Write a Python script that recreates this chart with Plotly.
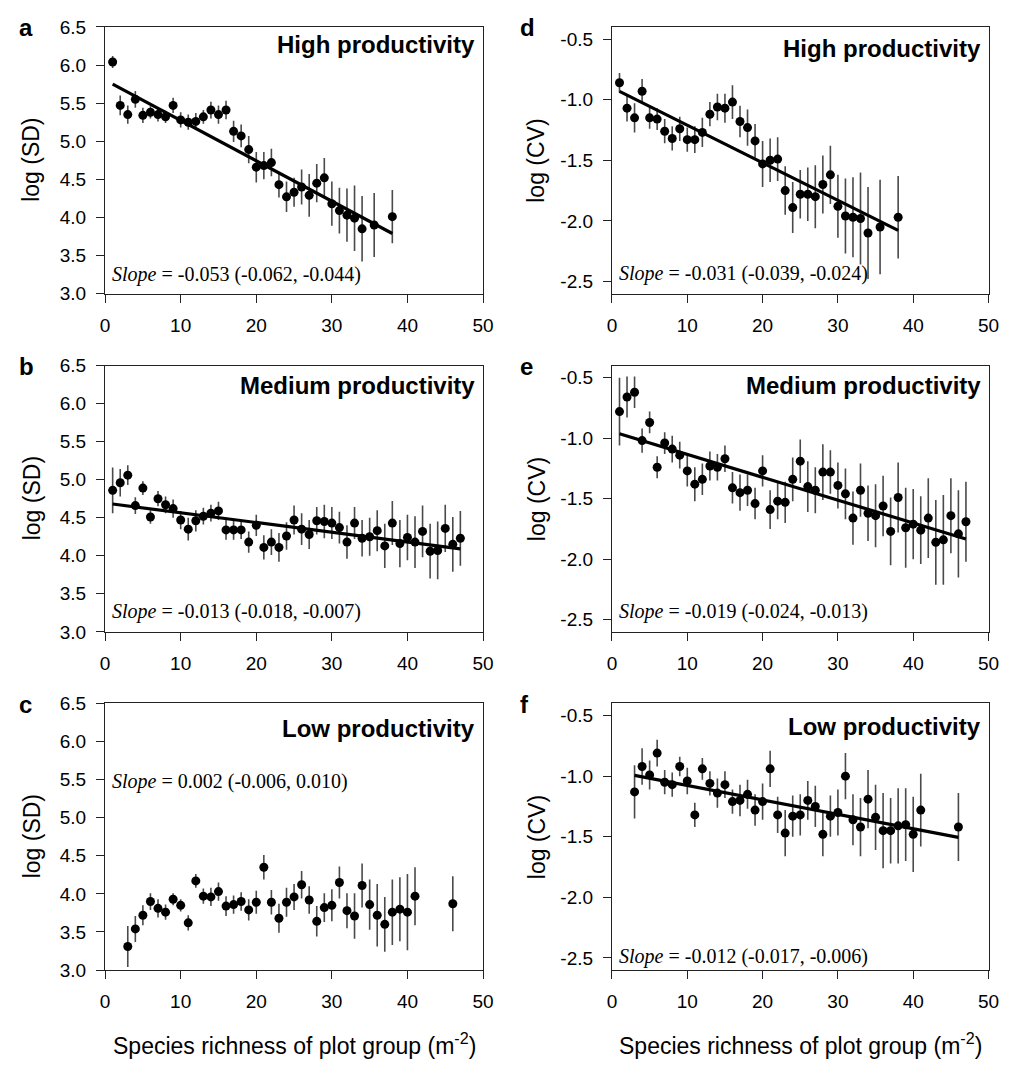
import plotly.graph_objects as go

W, H = 1014, 1070

# ---------------- data ----------------
x_high = list(range(1, 35)) + [35.6, 38]
x_med = list(range(1, 48))
x_low = list(range(3, 42)) + [46]

sd_high = [6.04,5.47,5.35,5.55,5.34,5.38,5.35,5.32,5.47,5.28,5.25,5.26,5.32,5.41,5.35,5.41,5.13,5.07,4.89,4.66,
           4.68,4.72,4.43,4.27,4.33,4.40,4.29,4.45,4.52,4.18,4.09,4.03,3.99,3.85,3.90,4.01]
sd_high_err = [0.08,0.13,0.12,0.11,0.10,0.08,0.09,0.08,0.10,0.10,0.10,0.11,0.09,0.11,0.12,0.12,0.14,0.15,0.18,0.20,
               0.18,0.18,0.17,0.20,0.19,0.23,0.28,0.25,0.26,0.29,0.30,0.35,0.43,0.43,0.42,0.35]

cv_high = [-0.86,-1.07,-1.15,-0.93,-1.15,-1.16,-1.26,-1.32,-1.24,-1.33,-1.33,-1.27,-1.12,-1.06,-1.07,-1.02,-1.18,-1.23,
           -1.34,-1.53,-1.50,-1.49,-1.75,-1.89,-1.78,-1.78,-1.80,-1.70,-1.62,-1.88,-1.96,-1.97,-1.98,-2.10,-2.05,-1.97]
cv_high_err = [0.08,0.11,0.12,0.10,0.09,0.09,0.10,0.10,0.10,0.10,0.11,0.12,0.10,0.11,0.12,0.14,0.13,0.15,0.14,0.19,
               0.18,0.18,0.20,0.21,0.20,0.22,0.26,0.24,0.24,0.26,0.31,0.33,0.38,0.38,0.39,0.34]

sd_med = [4.86,4.96,5.06,4.66,4.89,4.51,4.75,4.67,4.62,4.47,4.35,4.46,4.52,4.56,4.59,4.34,4.34,4.34,4.18,4.40,
          4.11,4.18,4.11,4.26,4.47,4.35,4.28,4.46,4.45,4.43,4.37,4.18,4.43,4.23,4.25,4.33,4.13,4.43,4.16,4.24,
          4.18,4.32,4.06,4.07,4.36,4.15,4.23]
sd_med_err = [0.30,0.18,0.13,0.11,0.09,0.09,0.10,0.11,0.12,0.12,0.15,0.14,0.11,0.11,0.12,0.13,0.13,0.12,0.14,0.14,
              0.16,0.17,0.19,0.18,0.19,0.21,0.19,0.18,0.22,0.21,0.21,0.22,0.21,0.24,0.25,0.27,0.29,0.29,0.31,0.30,
              0.34,0.34,0.36,0.38,0.31,0.36,0.36]

cv_med = [-0.78,-0.66,-0.62,-1.02,-0.87,-1.24,-1.04,-1.09,-1.14,-1.27,-1.38,-1.34,-1.23,-1.24,-1.17,-1.41,-1.45,-1.43,
          -1.54,-1.27,-1.59,-1.52,-1.53,-1.34,-1.19,-1.40,-1.43,-1.28,-1.28,-1.39,-1.46,-1.66,-1.43,-1.62,-1.64,-1.56,
          -1.77,-1.49,-1.74,-1.71,-1.76,-1.66,-1.86,-1.84,-1.64,-1.79,-1.69]
cv_med_err = [0.28,0.17,0.13,0.10,0.09,0.09,0.09,0.11,0.11,0.13,0.14,0.13,0.12,0.11,0.11,0.13,0.15,0.13,0.13,0.13,
              0.16,0.15,0.17,0.18,0.18,0.21,0.19,0.23,0.18,0.19,0.21,0.22,0.22,0.23,0.26,0.25,0.28,0.29,0.33,0.29,
              0.28,0.33,0.35,0.37,0.31,0.36,0.33]

sd_low = [3.31,3.54,3.72,3.90,3.81,3.76,3.93,3.85,3.62,4.17,3.97,3.96,4.03,3.84,3.86,3.90,3.79,3.89,4.35,3.89,
          3.68,3.89,3.96,4.12,3.92,3.64,3.82,3.85,4.15,3.78,3.71,4.11,3.86,3.72,3.60,3.76,3.80,3.76,3.97,3.87]
sd_low_err = [0.27,0.17,0.13,0.11,0.12,0.10,0.08,0.08,0.10,0.09,0.10,0.12,0.12,0.13,0.12,0.12,0.14,0.15,0.16,0.16,
              0.19,0.19,0.17,0.18,0.18,0.20,0.19,0.21,0.21,0.23,0.30,0.29,0.33,0.41,0.36,0.43,0.42,0.50,0.38,0.36]

cv_low = [-1.13,-0.92,-0.99,-0.81,-1.05,-1.07,-0.92,-1.04,-1.32,-0.94,-1.06,-1.14,-1.07,-1.21,-1.20,-1.15,-1.28,-1.21,
          -0.94,-1.32,-1.47,-1.33,-1.32,-1.20,-1.25,-1.48,-1.33,-1.30,-1.00,-1.36,-1.42,-1.19,-1.34,-1.45,-1.45,-1.41,
          -1.40,-1.48,-1.28,-1.42]
cv_low_err = [0.22,0.15,0.12,0.11,0.10,0.10,0.08,0.11,0.10,0.09,0.10,0.12,0.11,0.10,0.13,0.12,0.13,0.15,0.15,0.15,
              0.19,0.17,0.17,0.16,0.17,0.18,0.17,0.19,0.19,0.21,0.24,0.24,0.27,0.31,0.27,0.31,0.30,0.31,0.30,0.28]

# fitted lines: (intercept, slope, x_start, x_end); None = no line drawn
fit_sd_high = (5.803, -0.053, 1, 38)
fit_cv_high = (-0.900, -0.031, 1, 38)
fit_sd_med = (4.693, -0.0128, 1, 47)
fit_cv_med = (-0.945, -0.0189, 1, 47)
fit_sd_low = None
fit_cv_low = (-0.958, -0.0119, 3, 46)

slope_labels = ["-0.053 (-0.062, -0.044)", "-0.013 (-0.018, -0.007)", "0.002 (-0.006, 0.010)",
                "-0.031 (-0.039, -0.024)", "-0.019 (-0.024, -0.013)", "-0.012 (-0.017, -0.006)"]
panel_letters = ["a", "b", "c", "d", "e", "f"]
headings = ["High productivity", "Medium productivity", "Low productivity"] * 2
sd_ticks = [3.0, 3.5, 4.0, 4.5, 5.0, 5.5, 6.0, 6.5]
cv_ticks = [-2.5, -2.0, -1.5, -1.0, -0.5]
x_ticks = [0, 10, 20, 30, 40, 50]

# ---------------- layout geometry (pixels) ----------------
col_l = [(101.7, 485.7), (616.7, 999.3)]
row_t = [(17.3, 289.3), (362.7, 634.3), (707.3, 979.3)]

def fx(px):
    return px / W

def fy(py):
    return 1 - py / H

SANS = "Arial, Liberation Sans, sans-serif"
SERIF = "Times New Roman, Liberation Serif, serif"

panels = [
    (x_high, sd_high, sd_high_err, fit_sd_high, 0, 0),
    (x_med, sd_med, sd_med_err, fit_sd_med, 0, 1),
    (x_low, sd_low, sd_low_err, fit_sd_low, 0, 2),
    (x_high, cv_high, cv_high_err, fit_cv_high, 1, 0),
    (x_med, cv_med, cv_med_err, fit_cv_med, 1, 1),
    (x_low, cv_low, cv_low_err, fit_cv_low, 1, 2),
]

fig = go.Figure()
layout = dict(width=W, height=H, margin=dict(l=0, r=0, t=0, b=0), autosize=False,
              paper_bgcolor="white", plot_bgcolor="white", showlegend=False)
annotations = []

heading_off = [10, 12, 18, 14, 12, 16]
slope_base = [276, 620, 793, 275, 620, 971]

for i, (xs, ys, es, fit, c, r) in enumerate(panels):
    n = i + 1
    xa = "x" if n == 1 else f"x{n}"
    ya = "y" if n == 1 else f"y{n}"
    fig.add_trace(go.Scatter(
        x=xs, y=ys, mode="markers", xaxis=xa, yaxis=ya,
        marker=dict(color="black", size=9),
        error_y=dict(type="data", array=es, visible=True, color="#4a4a4a", thickness=1.6, width=0),
    ))
    if fit is not None:
        a0, b0, xs0, xs1 = fit
        fig.add_trace(go.Scatter(
            x=[xs0, xs1], y=[a0 + b0 * xs0, a0 + b0 * xs1], mode="lines", xaxis=xa, yaxis=ya,
            line=dict(color="black", width=3.2),
        ))
    x0, x1 = col_l[c]
    t0, t1 = row_t[r]
    is_sd = c == 0
    yt = sd_ticks if is_sd else cv_ticks
    layout["xaxis" if n == 1 else f"xaxis{n}"] = dict(
        domain=[fx(x0), fx(x1)], anchor=ya, range=[0, 50], tickvals=x_ticks,
        ticktext=[str(v) for v in x_ticks],
        showline=True, linecolor="#222", linewidth=1.2, mirror=True, ticks="outside",
        ticklen=8, tickcolor="#222", showgrid=False, zeroline=False,
        tickfont=dict(family=SANS, size=19, color="black"), ticklabelstandoff=6,
    )
    layout["yaxis" if n == 1 else f"yaxis{n}"] = dict(
        domain=[fy(t1), fy(t0)], anchor=xa,
        range=[3.0, 6.5] if is_sd else [-2.6, -0.4],
        tickvals=yt, ticktext=[f"{v:.1f}" for v in yt],
        showline=True, linecolor="#222", linewidth=1.2, mirror=True, ticks="outside",
        ticklen=8, tickcolor="#222", showgrid=False, zeroline=False,
        tickfont=dict(family=SANS, size=19, color="black"), ticklabelstandoff=6,
    )
    # panel letter
    annotations.append(dict(text=f"<b>{panel_letters[i]}</b>", x=fx(12 if c == 0 else 521), y=fy(t0 + 1),
                            xref="paper", yref="paper", xanchor="left", yanchor="middle", showarrow=False,
                            font=dict(family=SANS, size=24, color="black")))
    # heading
    annotations.append(dict(text=f"<b>{headings[i]}</b>", x=fx(x1 - 6), y=fy(t0 + heading_off[i] + 8),
                            xref="paper", yref="paper", xanchor="right", yanchor="middle", showarrow=False,
                            font=dict(family=SANS, size=24, color="black")))
    # slope text
    annotations.append(dict(text=f"<i>Slope</i> = {slope_labels[i]}", x=fx(x0 + 5), y=fy(slope_base[i] - 6),
                            xref="paper", yref="paper", xanchor="left", yanchor="middle", showarrow=False,
                            font=dict(family=SERIF, size=20, color="black")))
    # y title
    annotations.append(dict(text="log (SD)" if is_sd else "log (CV)", x=fx(27 if c == 0 else 540),
                            y=fy((t0 + t1) / 2), xref="paper", yref="paper", textangle=-90,
                            xanchor="center", yanchor="middle", showarrow=False,
                            font=dict(family=SANS, size=23, color="black")))

for c in range(2):
    x0, x1 = col_l[c]
    annotations.append(dict(text="Species richness of plot group (m<sup>-2</sup>)", x=fx((x0 + x1) / 2),
                            y=fy(1055), xref="paper", yref="paper", xanchor="center", yanchor="middle",
                            showarrow=False, font=dict(family=SANS, size=23, color="black")))

layout["annotations"] = annotations
fig.update_layout(**layout)
fig.write_html("out.html")
